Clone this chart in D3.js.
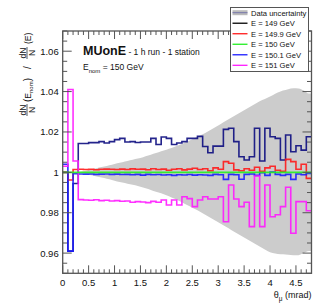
<!DOCTYPE html>
<html><head><meta charset="utf-8">
<script src="https://cdn.jsdelivr.net/npm/d3@7"></script>
<style>body{margin:0;background:#fff}svg{display:block;font-family:"Liberation Sans",Arial,sans-serif}</style>
</head><body><svg id="c" width="315" height="304"></svg>
<script>
const binWidth = 0.1;
const nBins = 48;
const xTicks = [0, 0.5, 1, 1.5, 2, 2.5, 3, 3.5, 4, 4.5];
const yTicks = [0.96, 0.98, 1, 1.02, 1.04, 1.06];
const yTickLabels = ["0.96", "0.98", "1", "1.02", "1.04", "1.06"];
const seriesNames = ["E = 149 GeV", "E = 149.9 GeV", "E = 150 GeV", "E = 150.1 GeV", "E = 151 GeV"];
const e149 = [1.000,0.961,0.9945,1.0143,1.0143,1.0147,1.0147,1.0152,1.0145,1.0152,1.0162,1.0168,1.0150,1.0152,1.0148,1.0150,1.0150,1.0168,1.0138,1.0175,1.0168,1.0138,1.0145,1.0152,1.0168,1.0168,1.0178,1.0128,1.0097,1.0130,1.0130,1.0213,1.0218,1.0152,1.0077,1.0061,1.0077,1.0218,1.0056,1.0218,1.0176,1.0168,1.0061,1.0185,1.0102,1.0132,1.0110,1.0176];
const e1499 = [1.000,0.9962,1.0014,1.0015,1.0014,1.0015,1.0013,1.0015,1.0016,1.0015,1.0014,1.0016,1.0014,1.0017,1.0015,1.0016,1.0013,1.0018,1.0014,1.0016,1.0010,1.0015,1.0018,1.0012,1.0016,1.0020,1.0014,1.0018,1.0008,1.0022,1.0015,1.0053,1.0045,1.0012,1.0008,1.0018,1.0010,1.0025,1.0005,1.0022,1.0030,1.0010,1.0005,1.0064,1.0053,1.0015,1.0040,0.9970];
const e150 = new Array(48).fill(1.0);
const e1501 = [1.004,0.961,0.9993,0.9992,0.9991,0.9992,0.9990,0.9991,0.9992,0.9990,0.9991,0.9989,0.9990,0.9988,0.9990,0.9986,0.9990,0.9988,0.9989,0.9987,0.9988,0.9985,0.9988,0.9987,0.9989,0.9986,0.9988,0.9987,0.9985,0.9990,0.9988,0.9965,0.9990,0.9988,0.9966,0.9990,0.9992,0.9985,0.9998,0.9985,1.0002,0.9990,0.9985,0.9990,0.9965,0.9992,0.9988,0.9995];
const e151 = [1.003,1.041,1.0056,0.9865,0.9863,0.9862,0.9864,0.9860,0.9862,0.9858,0.9860,0.9857,0.9858,0.9852,0.9855,0.9853,0.9850,0.9856,0.9852,0.9863,0.9838,0.9863,0.9838,0.9879,0.9870,0.9830,0.9863,0.9879,0.9868,0.9868,0.9879,0.9755,0.9937,0.9868,0.9830,0.9852,0.9731,0.9982,0.9731,0.9937,0.9780,0.9790,0.9830,0.9926,0.9698,0.9855,0.9855,0.9810];
const bandUpper = [null,null,null,1.0003,1.0008,1.0015,1.0020,1.0026,1.0032,1.0038,1.0045,1.0050,1.0056,1.0062,1.0068,1.0075,1.0083,1.0092,1.0100,1.0108,1.0117,1.0126,1.0135,1.0146,1.0158,1.0170,1.0182,1.0195,1.0210,1.0225,1.0240,1.0255,1.0270,1.0285,1.0300,1.0315,1.0330,1.0345,1.0358,1.0370,1.0382,1.0395,1.0405,1.0412,1.0417,1.0415,1.0405,1.0390];
const bandLower = [null,null,null,0.9997,0.9992,0.9985,0.9980,0.9974,0.9968,0.9962,0.9955,0.9950,0.9944,0.9938,0.9932,0.9925,0.9917,0.9908,0.9900,0.9892,0.9882,0.9870,0.9858,0.9845,0.9832,0.9818,0.9805,0.9790,0.9775,0.9760,0.9745,0.9730,0.9715,0.9700,0.9685,0.9670,0.9655,0.9640,0.9625,0.9610,0.9600,0.9596,0.9594,0.9592,0.9590,0.9590,0.9600,0.9610];

const colors = ["#0c0c80", "#ff1a1a", "#22ee22", "#1a1aff", "#ff1aff"];
const legendColors = ["#000000", "#ff1a1a", "#22ee22", "#1a1aff", "#ff1aff"];
const seriesData = [e149, e1499, e150, e1501, e151];

const svg = d3.select("#c");
const L = 62.7, R = 311.5, T = 31, B = 273.3;
const x = d3.scaleLinear().domain([0, 4.8]).range([L, R]);
const y = d3.scaleLinear().domain([0.95, 1.07]).range([B, T]);

svg.append("defs").append("clipPath").attr("id","clip").append("rect")
  .attr("x", L).attr("y", T).attr("width", R-L).attr("height", B-T);
const plot = svg.append("g").attr("clip-path","url(#clip)");

const bandPts = d3.range(nBins).filter(i => bandUpper[i] !== null)
  .map(i => ({t: (i+0.5)*binWidth, u: bandUpper[i], l: bandLower[i]}));
bandPts.unshift({t: 0.3, u: 1.0, l: 1.0});
bandPts.push({t: 4.8, u: bandUpper[nBins-1], l: bandLower[nBins-1]});
plot.append("path").datum(bandPts)
  .attr("d", d3.area().curve(d3.curveMonotoneX).x(d => x(d.t)).y0(d => y(d.l)).y1(d => y(d.u)))
  .attr("fill", "#cccccc");

const stepLine = d3.line().x(d => x(d[0])).y(d => y(d[1]));
const drawOrder = [0, 1, 3, 4, 2];
drawOrder.forEach(s => {
  const pts = [];
  seriesData[s].forEach((v, i) => { pts.push([i*binWidth, v]); pts.push([(i+1)*binWidth, v]); });
  plot.append("path").datum(pts).attr("d", stepLine)
    .attr("fill","none").attr("stroke", colors[s]).attr("stroke-width", 1.6)
    .attr("stroke-linejoin","miter").attr("opacity", 0.9);
});

const axCol = "#555";
const g = svg.append("g");
const minorX = d3.range(0, 4.81, 0.1).map(v => +v.toFixed(2));
minorX.forEach(v => {
  const major = Math.abs(v*2 - Math.round(v*2)) < 1e-6;
  const len = major ? 8 : 4;
  g.append("line").attr("x1", x(v)).attr("x2", x(v)).attr("y1", B).attr("y2", B-len).attr("stroke", axCol);
  g.append("line").attr("x1", x(v)).attr("x2", x(v)).attr("y1", T).attr("y2", T+len).attr("stroke", axCol);
});
const minorY = d3.range(0.95, 1.0701, 0.005).map(v => +v.toFixed(3));
minorY.forEach(v => {
  const major = yTicks.some(m => Math.abs(m - v) < 1e-6);
  const len = major ? 9 : 4.5;
  g.append("line").attr("x1", L).attr("x2", L+len).attr("y1", y(v)).attr("y2", y(v)).attr("stroke", axCol);
  g.append("line").attr("x1", R).attr("x2", R-len).attr("y1", y(v)).attr("y2", y(v)).attr("stroke", axCol);
});
g.append("rect").attr("x", L).attr("y", T).attr("width", R-L).attr("height", B-T)
  .attr("fill","none").attr("stroke", axCol).attr("stroke-width", 1.3);

xTicks.forEach(v => g.append("text").attr("x", x(v)).attr("y", B+13).attr("text-anchor","middle")
  .attr("font-size", 9.5).attr("fill","#111").text(String(v)));
yTicks.forEach((v, i) => g.append("text").attr("x", L-4).attr("y", y(v)+3.5).attr("text-anchor","end")
  .attr("font-size", 9.5).attr("fill","#111").text(yTickLabels[i]));

const xt = g.append("text").attr("x", R).attr("y", 298).attr("text-anchor","end").attr("font-size", 9).attr("fill","#111");
xt.append("tspan").text("θ");
xt.append("tspan").attr("font-size", 6.5).attr("dy", 2.5).text("μ");
xt.append("tspan").attr("dy", -2.5).text(" (mrad)");

const yt = svg.append("g").attr("transform", "translate(27,116) rotate(-90)").attr("fill","#111").attr("font-size", 8.5);
function frac(g0, u) {
  g0.append("text").attr("x", u).attr("y", -1.5).attr("text-anchor","middle").text("dN");
  g0.append("text").attr("x", u).attr("y", 7.5).attr("text-anchor","middle").text("N");
  g0.append("line").attr("x1", u-6).attr("x2", u+6).attr("y1", 0).attr("y2", 0).attr("stroke","#111").attr("stroke-width", 0.7);
}
frac(yt, 6);
const t1 = yt.append("text").attr("x", 14).attr("y", 3.5);
t1.append("tspan").attr("font-size", 10).text("(");
t1.append("tspan").text("E");
t1.append("tspan").attr("font-size", 6).attr("dy", 2.5).text("nom");
t1.append("tspan").attr("font-size", 10).attr("dy", -2.5).text(")");
yt.append("text").attr("x", 47).attr("y", 3.5).attr("font-size", 10).text("/");
frac(yt, 63);
yt.append("text").attr("x", 72).attr("y", 3.5).text("(E)");

const tt = svg.append("text").attr("x", 83).attr("y", 55).attr("fill","#111");
tt.append("tspan").attr("font-weight","bold").attr("font-size", 12.5).text("MUonE");
tt.append("tspan").attr("font-size", 8.5).text(" - 1 h run - 1 station");
const en = svg.append("text").attr("x", 83).attr("y", 70).attr("fill","#111").attr("font-size", 8.5);
en.append("tspan").text("E");
en.append("tspan").attr("font-size", 6).attr("dy", 2.5).text("nom");
en.append("tspan").attr("dy", -2.5).text(" = 150 GeV");

const lg = svg.append("g");
lg.append("rect").attr("x", 230.5).attr("y", 7.5).attr("width", 78).attr("height", 64)
  .attr("fill","#fff").attr("stroke","#555").attr("stroke-width", 1);
const legendLabels = ["Data uncertainty"].concat(seriesNames);
const ly = d3.scaleLinear().domain([0, 5]).range([12.7, 65.3]);
legendLabels.forEach((lab, i) => {
  const yy = ly(i);
  if (i === 0) {
    lg.append("rect").attr("x", 232.5).attr("y", yy-2.5).attr("width", 15).attr("height", 5).attr("fill","#bbbbbb");
    lg.append("line").attr("x1", 232.5).attr("x2", 247.5).attr("y1", yy).attr("y2", yy).attr("stroke","#7777aa").attr("stroke-width", 1);
  } else {
    lg.append("line").attr("x1", 232.5).attr("x2", 247.5).attr("y1", yy).attr("y2", yy)
      .attr("stroke", legendColors[i-1]).attr("stroke-width", 1.3);
  }
  lg.append("text").attr("x", 251).attr("y", yy+3).attr("font-size", 7.6).attr("fill","#111").text(lab);
});
</script></body></html>
